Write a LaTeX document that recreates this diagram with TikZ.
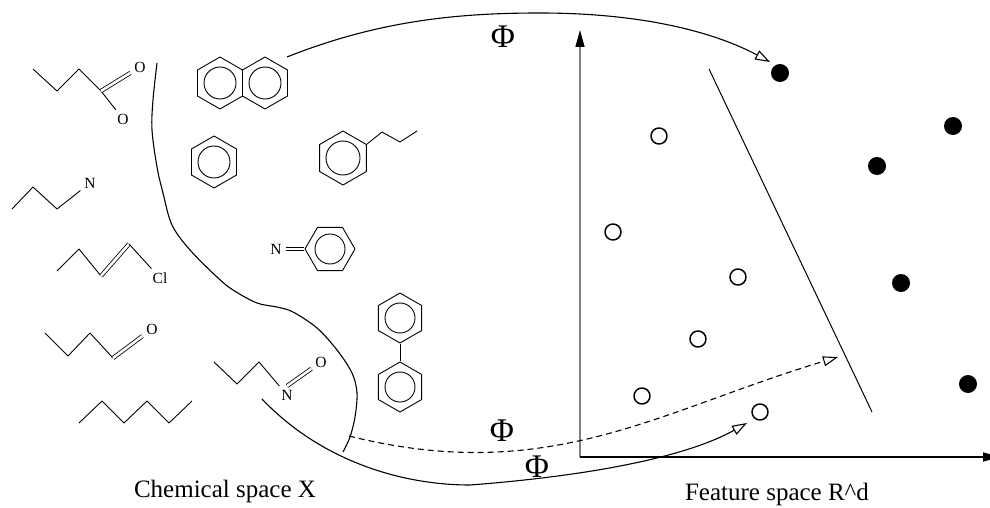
\documentclass[tikz,border=0pt]{standalone}
\usepackage{fontspec}
\setmainfont{Liberation Serif}
\usepackage{tikz}
\usetikzlibrary{positioning, shapes, arrows.meta}

\begin{document}
\begin{tikzpicture}[x=1pt, y=-1pt, line join=round, line width=0.9pt,
        atom/.style={inner sep=3.5pt, font=\fontsize{15.5}{16}\selectfont},
        ring/.style={regular polygon, regular polygon sides=6, shape border rotate=30, draw, inner sep=0pt, minimum size=52pt},
        bond2/.style={double, double distance=2.6pt, line width=0.8pt},
        fdot/.style={circle, fill=black, inner sep=0pt, minimum size=18pt},
        odot/.style={circle, draw, line width=1.5pt, inner sep=0pt, minimum size=16pt},
        phi/.style={font=\fontsize{33}{33}\selectfont},
        caption/.style={anchor=base, font=\fontsize{25}{30}\selectfont},
        phimap/.style={line width=1.1pt, -{Triangle[open, length=15pt, width=10pt]}}]
            \path[use as bounding box] (0,0) rectangle (990,508);

            \node[atom] (o1) at (140,67) {O};
            \node[atom] (o2) at (123,119) {O};
            \coordinate (c1) at (101,91);
            \draw (33,69) -- (57,91) -- (79,69) -- (c1) -- (o2);
            \draw[bond2] (c1) -- (o1);

            \node[atom] (n1) at (90,183) {N};
            \draw (12,209) -- (33,187) -- (57,209) -- (n1);

            \node[atom] (cl) at (160,278) {Cl};
            \coordinate (c2) at (101,276);
            \coordinate (c3) at (129,244);
            \draw (57,271) -- (79,249) -- (c2);
            \draw[bond2] (c2) -- (c3);
            \draw (c3) -- (cl);

            \node[atom] (o3) at (152,329) {O};
            \coordinate (c4) at (113,358);
            \draw (45,333) -- (68,356) -- (90,333) -- (c4);
            \draw[bond2] (c4) -- (o3);

            \draw (79,423) -- (102,401) -- (124,423) -- (147,401) -- (169,423) -- (192,401);

            \node[atom] (n2) at (287,395) {N};
            \node[atom] (o4) at (321,362) {O};
            \draw (214,362) -- (237,384) -- (259,362) -- (n2);
            \draw[bond2] (n2.north) -- (o4);

            \node[ring] (naphl) at (220,83) {};
            \node[ring] (naphr) at (265,83) {};
            \draw (naphl.center) circle[radius=16pt] (naphr.center) circle[radius=16pt];

            \node[ring] (benz) at (214,162) {};
            \draw (benz.center) circle[radius=16pt];

            \node[ring, minimum size=54pt] (prop) at (343,158) {};
            \draw (prop.center) circle[radius=17pt];
            \draw (prop.30) -- (382,132) -- (400,142) -- (417,131);

            \node[ring, shape border rotate=0, minimum size=50pt] (imine) at (330,249) {};
            \draw (imine.center) circle[radius=15pt];
            \node[atom] (n3) at (276,249) {N};
            \draw[bond2] (imine.west) -- (n3);

            \node[ring, minimum size=50pt] (biphu) at (400,318) {};
            \node[ring, minimum size=50pt] (biphl) at (400,387) {};
            \draw (biphu.center) circle[radius=15pt] (biphl.center) circle[radius=15pt];
            \draw (biphu.south) -- (biphl.north);

            \draw[line width=1.1pt] plot[smooth, tension=0.55] coordinates {(157,63) (153,100) (152,130) (157,167) (163,193) (172,225) (190,250) (217,277) (233,290) (257,303) (277,307) (293,312) (317,328) (337,350) (352,373) (357,393) (355,417) (350,437) (343,452)};

            \coordinate (origin) at (580,457);
            \coordinate (ytip) at (580,30);
            \coordinate (xtip) at (1000,457);
            \draw[gray, line width=1.5pt, -{Triangle[black, length=17pt, width=9pt]}] (origin) -- (ytip);
            \draw[line width=1.5pt, -{Triangle[length=17pt, width=9pt]}] (origin) -- (xtip);

            \coordinate (s1) at (709,69);
            \coordinate (s2) at (872,412);
            \draw[line width=1pt] (s1) -- (s2);

            \node[fdot] (f1) at (780,73) {};
            \node[fdot] (f2) at (953,126) {};
            \node[fdot] (f3) at (877,166) {};
            \node[fdot] (f4) at (901,283) {};
            \node[fdot] (f5) at (968,384) {};

            \node[odot] (e1) at (659,136) {};
            \node[odot] (e2) at (613,232) {};
            \node[odot] (e3) at (738,277) {};
            \node[odot] (e4) at (698,339) {};
            \node[odot] (e5) at (642,396) {};
            \node[odot] (e6) at (760,412) {};

            \coordinate (topstart) at (287,57);
            \coordinate (topmid) at (540,13);
            \coordinate (topend) at (770,62);
            \draw[phimap] (topstart) .. controls (380,20) and (460,13) .. (topmid) .. controls (650,13) and (720,35) .. (topend);

            \coordinate (dashstart) at (349,436);
            \coordinate (dashend) at (838,357);
            \draw[phimap, dash pattern=on 6pt off 4pt] (dashstart) .. controls (549,486) and (658,411) .. (dashend);

            \coordinate (lowstart) at (262,399);
            \coordinate (lowmid) at (470,485);
            \coordinate (lowend) at (747,423);
            \draw[phimap] (lowstart) .. controls (320,460) and (400,485) .. (lowmid) .. controls (600,475) and (690,455) .. (lowend);

            \node[phi] (phitop) at (503,37) {Φ};
            \node[phi] (phimid) at (502,431) {Φ};
            \node[phi] (philow) at (537,467) {Φ};

            \node[caption] (chem) at (225,497) {Chemical space X};
            \node[caption] (feat) at (777,500) {Feature space R\textasciicircum d};
\end{tikzpicture}
\end{document}
